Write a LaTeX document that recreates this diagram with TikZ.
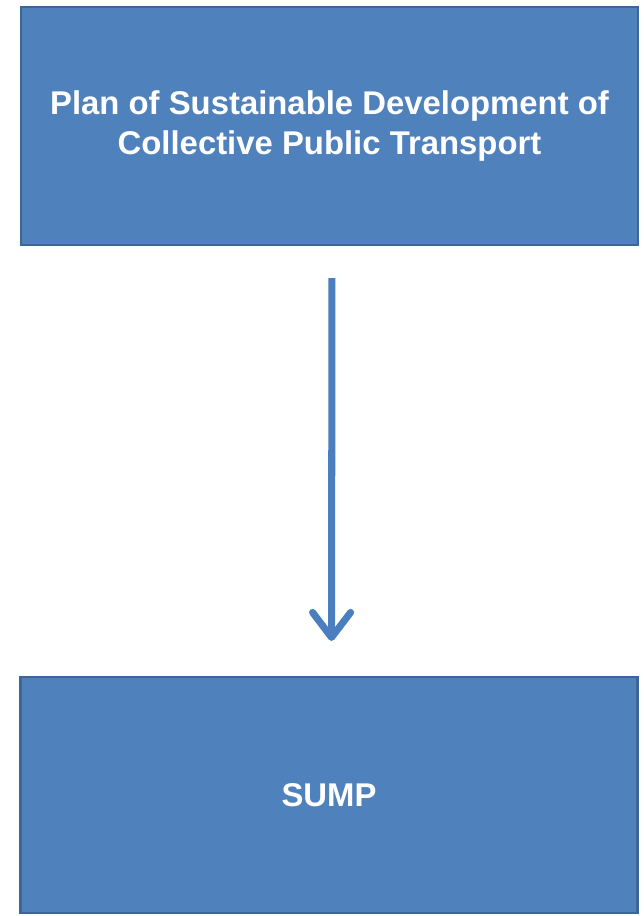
\documentclass[tikz,border=0pt]{standalone}
\usepackage{fontspec}
\setmainfont{Liberation Sans}
\usetikzlibrary{arrows.meta}
\definecolor{boxblue}{HTML}{4F81BD}
\definecolor{boxline}{HTML}{3C6696}
\definecolor{arrowblue}{HTML}{4A7EBF}
\tikzset{
  block/.style={fill=boxblue, draw=boxline, line width=1.2pt,
    minimum width=12.34cm, text=white, align=center,
    font=\fontsize{18.7}{22.5}\selectfont\bfseries},
  link/.style={draw=arrowblue, line width=4pt,
    -{Straight Barb[length=0.5cm,width=0.76cm,round]}}
}
\begin{document}
\begin{tikzpicture}
\useasboundingbox (0,0) rectangle (12.88,18.32);

\node[block, minimum height=4.76cm] (plan) at (6.59,15.8)
  {Plan of Sustainable Development of\\Collective Public Transport};
\node[block, minimum height=4.72cm] (sump) at (6.58,2.42) {SUMP};

% connector
\draw[link, shorten <=0.64cm, shorten >=0.7cm]
  ([xshift=0.05cm]plan.south) -- ([xshift=0.05cm]sump.north);
\end{tikzpicture}
\end{document}
